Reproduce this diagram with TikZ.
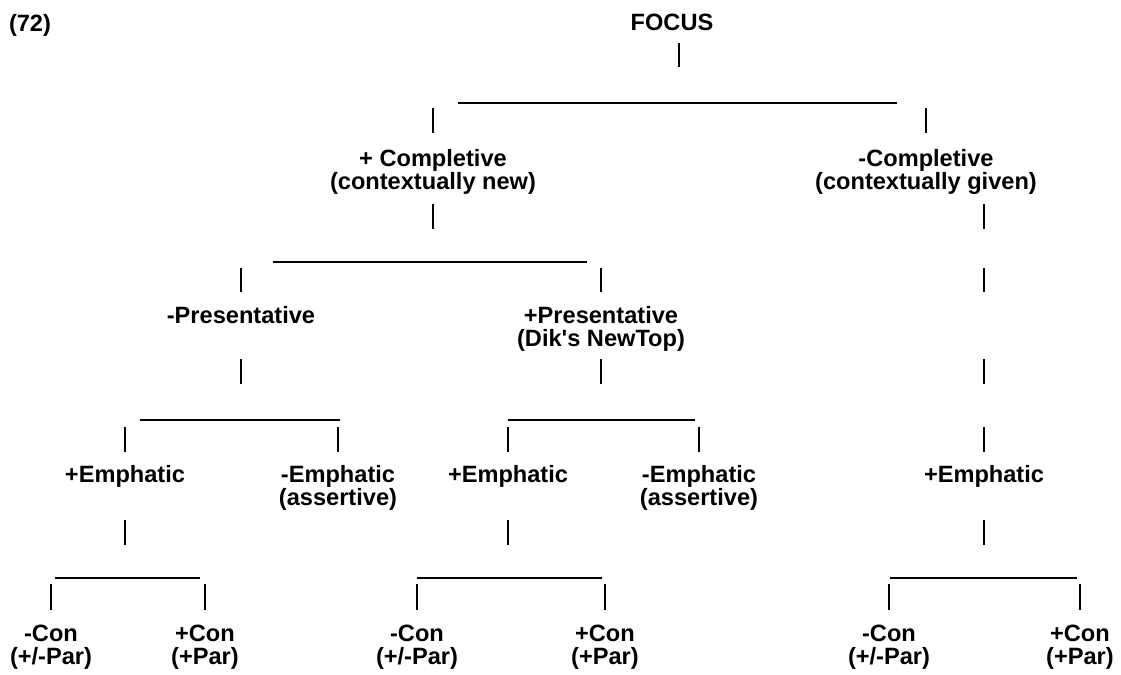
\documentclass[tikz,border=0pt]{standalone}
\usepackage{fontspec}
\setmainfont{Liberation Sans}

\begin{document}
\begin{tikzpicture}[x=0.5pt,y=-0.5pt,line width=1.1pt,
                    font=\fontsize{11.8}{11.5}\selectfont\bfseries]
  \tikzstyle{every node}=[align=center,inner sep=0pt,anchor=north]
  \useasboundingbox (0,0) rectangle (1121,675);

  \node (num)    at (30,13)   {(72)};
  \node (focus)  at (672,13)  {FOCUS};
  \node (comp_p) at (433,148) {+ Completive\\(contextually new)};
  \node (comp_m) at (926,148) {-Completive\\(contextually given)};
  \node (pres_m) at (241,305) {-Presentative};
  \node (pres_p) at (601,305) {+Presentative\\(Dik\textquotesingle s NewTop)};
  \node (emph_1) at (125,464) {+Emphatic};
  \node (asrt_1) at (338,464) {-Emphatic\\(assertive)};
  \node (emph_2) at (508,464) {+Emphatic};
  \node (asrt_2) at (699,464) {-Emphatic\\(assertive)};
  \node (emph_3) at (984,464) {+Emphatic};
  \node (con_1m) at (51,624)  {-Con\\(+/-Par)};
  \node (con_1p) at (205,624) {+Con\\(+Par)};
  \node (con_2m) at (417,624) {-Con\\(+/-Par)};
  \node (con_2p) at (605,624) {+Con\\(+Par)};
  \node (con_3m) at (889,624) {-Con\\(+/-Par)};
  \node (con_3p) at (1080,624) {+Con\\(+Par)};

  % rows of ticks
  \coordinate (r0) at (679,43);
  \coordinate (r1) at (0,108);
  \coordinate (r2) at (0,204);
  \coordinate (r3) at (0,268);
  \coordinate (r4) at (0,359);
  \coordinate (r5) at (0,427);
  \coordinate (r6) at (0,520);
  \coordinate (r7) at (0,584);

  % bars
  \coordinate (bar_1w)  at (458,103);  \coordinate (bar_1e)  at (897,103);
  \coordinate (bar_2w)  at (273,262);  \coordinate (bar_2e)  at (587,262);
  \coordinate (bar_3aw) at (140,420);  \coordinate (bar_3ae) at (340,420);
  \coordinate (bar_3bw) at (508,420);  \coordinate (bar_3be) at (695,420);
  \coordinate (bar_4aw) at (55,578);   \coordinate (bar_4ae) at (200,578);
  \coordinate (bar_4bw) at (417,578);  \coordinate (bar_4be) at (602,578);
  \coordinate (bar_4cw) at (890,578);  \coordinate (bar_4ce) at (1077,578);

  \draw (bar_1w) -- (bar_1e)
        (bar_2w) -- (bar_2e)
        (bar_3aw) -- (bar_3ae)
        (bar_3bw) -- (bar_3be)
        (bar_4aw) -- (bar_4ae)
        (bar_4bw) -- (bar_4be)
        (bar_4cw) -- (bar_4ce);

  \draw (r0) -- ++(0,24)
        (comp_p |- r1) -- ++(0,25)
        (comp_m |- r1) -- ++(0,25)
        (comp_p |- r2) -- ++(0,25)
        (emph_3 |- r2) -- ++(0,25);
  \draw (pres_m |- r3) -- ++(0,24)
        (pres_p |- r3) -- ++(0,24)
        (emph_3 |- r3) -- ++(0,24)
        (pres_m |- r4) -- ++(0,25)
        (pres_p |- r4) -- ++(0,25)
        (emph_3 |- r4) -- ++(0,25);
  \draw (emph_1 |- r5) -- ++(0,25)
        (asrt_1 |- r5) -- ++(0,25)
        (emph_2 |- r5) -- ++(0,25)
        (asrt_2 |- r5) -- ++(0,25)
        (emph_3 |- r5) -- ++(0,25)
        (emph_1 |- r6) -- ++(0,25)
        (emph_2 |- r6) -- ++(0,25)
        (emph_3 |- r6) -- ++(0,25);
  \draw (con_1m |- r7) -- ++(0,26)
        (con_1p |- r7) -- ++(0,26)
        (con_2m |- r7) -- ++(0,26)
        (con_2p |- r7) -- ++(0,26)
        (con_3m |- r7) -- ++(0,26)
        (con_3p |- r7) -- ++(0,26);
\end{tikzpicture}
\end{document}
